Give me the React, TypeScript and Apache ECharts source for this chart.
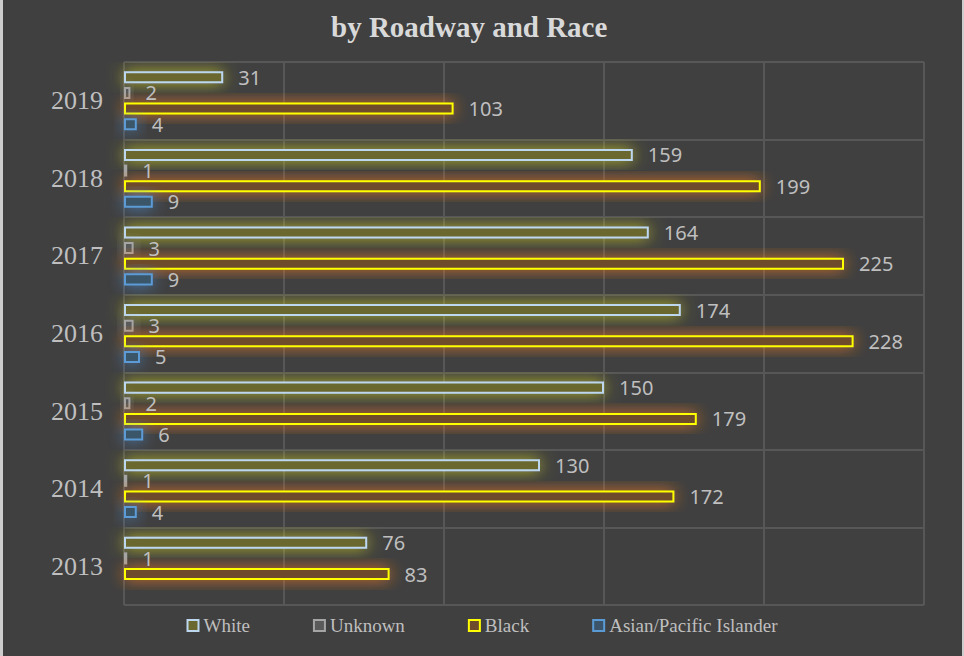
import React, { useEffect, useRef } from "react";
import * as echarts from "echarts";

const years = ["2013", "2014", "2015", "2016", "2017", "2018", "2019"];
const white = [76, 130, 150, 174, 164, 159, 31];
const unknown = [1, 1, 2, 3, 3, 1, 2];
const black = [83, 172, 179, 228, 225, 199, 103];
const asian = [null, 4, 6, 5, 9, 9, 4];
const seriesNames = ["White", "Unknown", "Black", "Asian/Pacific Islander"];

const labelStyle = {
  show: true,
  position: "right" as const,
  distance: 15,
  color: "#bfbfbf",
  fontSize: 20,
  fontFamily: "Noto Sans",
};

function mk(name: string, data: (number | null)[], border: string, fill: string, glow: string) {
  return {
    name,
    type: "bar",
    data,
    barCategoryGap: "24%",
    barGap: "30%",
    itemStyle: {
      color: fill,
      borderColor: border,
      borderWidth: 2,
      shadowBlur: 16,
      shadowColor: glow,
    },
    label: labelStyle,
  };
}

export default function App() {
  const ref = useRef<HTMLDivElement>(null);
  useEffect(() => {
    const chart = echarts.init(ref.current!, null, { renderer: "svg" });
    chart.setOption({
      animation: false,
      backgroundColor: "#404040",
      title: {
        text: "by Roadway and Race",
        left: 326,
        top: 7,
        textStyle: {
          color: "#d9d9d9",
          fontFamily: "Liberation Serif",
          fontWeight: "bold",
          fontSize: 29,
        },
      },
      graphic: [
        { type: "rect", shape: { x: 0, y: 0, width: 3, height: 656 }, style: { fill: "#cdcdcd" } },
        { type: "rect", shape: { x: 962, y: 0, width: 2, height: 656 }, style: { fill: "#cdcdcd" } },
      ],
      legend: {
        data: seriesNames,
        bottom: 16,
        left: "center",
        itemWidth: 11,
        itemHeight: 11,
        itemGap: 63,
        icon: "rect",
        textStyle: { color: "#bfbfbf", fontFamily: "Liberation Serif", fontSize: 19 },
      },
      grid: { left: 124, right: 40, top: 62, bottom: 51 },
      xAxis: {
        type: "value",
        min: 0,
        max: 250,
        interval: 50,
        axisLabel: { show: false },
        axisLine: { show: false },
        axisTick: { show: false },
        splitLine: { show: true, lineStyle: { color: "#575757", width: 2 } },
      },
      yAxis: {
        type: "category",
        data: years,
        axisTick: { show: false },
        axisLine: { show: false },
        axisLabel: {
          color: "#bfbfbf",
          fontFamily: "Liberation Serif",
          fontSize: 26,
          margin: 21,
        },
        splitLine: { show: true, lineStyle: { color: "#575757", width: 2 } },
      },
      series: [
        mk("White", white, "#bdd7ee", "#6b682f", "rgba(205,205,40,0.85)"),
        mk("Unknown", unknown, "#a5a5a5", "#5a5a5a", "rgba(170,170,170,0.75)"),
        mk("Black", black, "#ffff00", "#6e4b2b", "rgba(240,120,30,0.85)"),
        mk("Asian/Pacific Islander", asian, "#5b9bd5", "#3b5469", "rgba(80,145,220,0.8)"),
      ],
    });
    return () => chart.dispose();
  }, []);
  return (
    <div
      ref={ref}
      style={{ position: "absolute", left: 0, top: 0, width: 964, height: 656 }}
    />
  );
}
